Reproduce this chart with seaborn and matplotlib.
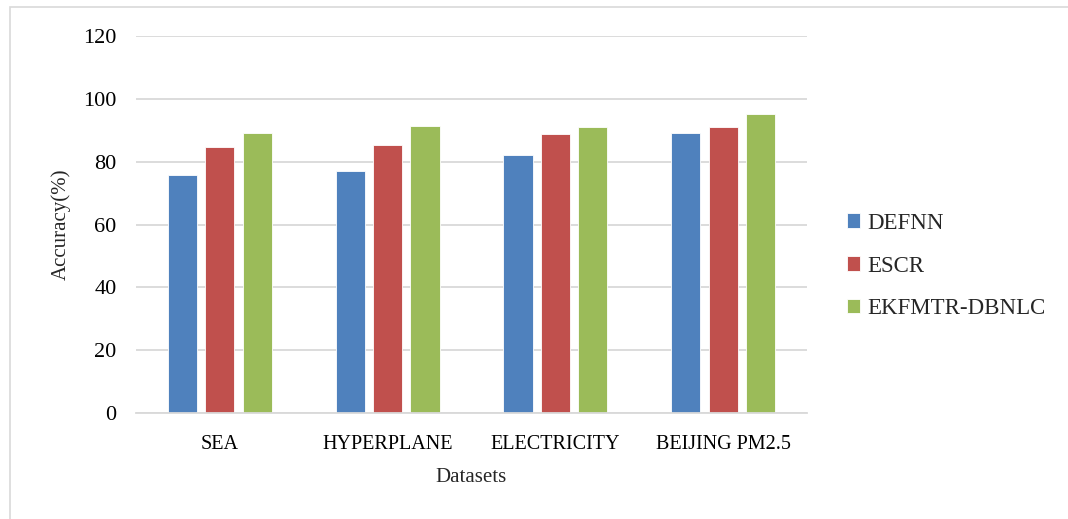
import matplotlib
matplotlib.use('Agg')
import matplotlib.pyplot as plt
import pandas as pd
import seaborn as sns
from matplotlib.patches import Rectangle

DATASETS = ['SEA', 'HYPERPLANE', 'ELECTRICITY', 'BEIJING PM2.5']
METHODS = ['DEFNN', 'ESCR', 'EKFMTR-DBNLC']
DEFNN = [75.8, 77.1, 82.2, 89.2]
ESCR = [84.7, 85.3, 88.9, 90.9]
EKFMTR_DBNLC = [89.2, 91.2, 91.0, 95.3]
Y_TICKS = [0, 20, 40, 60, 80, 100, 120]
COLORS = ['#4F81BD', '#C0504D', '#9BBB59']

frame = pd.DataFrame({
    'Dataset': DATASETS * 3,
    'Method': [m for m in METHODS for _ in DATASETS],
    'Accuracy': DEFNN + ESCR + EKFMTR_DBNLC,
})

sns.set_theme(style='white')
plt.rcParams['font.family'] = ['Liberation Serif', 'DejaVu Serif']

fig = plt.figure(figsize=(10.68, 5.19), dpi=100)
ax = fig.add_axes([136 / 1068, 1 - 413 / 519, 671 / 1068, 377 / 519])

sns.barplot(
    data=frame, x='Dataset', y='Accuracy', hue='Method',
    palette=COLORS, width=0.67, gap=0.22, ax=ax,
    edgecolor='white', linewidth=0.6, saturation=1,
)

ax.set_ylim(0, 120)
ax.set_yticks(Y_TICKS)
ax.set_xlim(-0.5, 3.5)
ax.yaxis.grid(True, color='#D9D9D9', linewidth=1.3)
ax.set_axisbelow(True)
for side in ('top', 'right', 'left'):
    ax.spines[side].set_visible(False)
ax.spines['bottom'].set_color('#D9D9D9')
ax.spines['bottom'].set_linewidth(1.3)
ax.tick_params(axis='x', length=0, labelsize=14.5, colors='black', pad=16)
ax.tick_params(axis='y', length=0, labelsize=16, colors='black', pad=14)
ax.set_ylabel('Accuracy(%)', fontsize=15, labelpad=9)
ax.set_xlabel('Datasets', fontsize=15, labelpad=10)

ax.legend(
    loc='center left', bbox_to_anchor=(826 / 1068, 1 - 266 / 519),
    bbox_transform=fig.transFigure, frameon=False, fontsize=16.5,
    handlelength=0.6, handleheight=0.6, handletextpad=0.3, labelspacing=0.95,
)

fig.add_artist(Rectangle((10 / 1068, -0.05), 1.1, 1 - 7 / 519 + 0.05,
                         transform=fig.transFigure, fill=False,
                         edgecolor='#D9D9D9', linewidth=1.2))

fig.savefig('out.png', dpi=100)
